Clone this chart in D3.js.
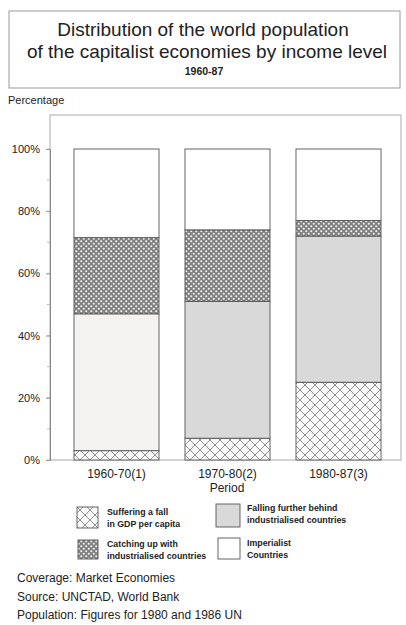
<!DOCTYPE html>
<html><head><meta charset="utf-8">
<script src="https://cdn.jsdelivr.net/npm/d3@7"></script>
<style>body{margin:0;background:#fff}svg{display:block}text{font-family:"Liberation Sans",Arial,sans-serif;fill:#222}</style>
</head><body>
<svg id="c" width="406" height="625"></svg>
<script>
const periods = ["1960-70(1)", "1970-80(2)", "1980-87(3)"];
const seriesNames = ["Suffering a fall in GDP per capita", "Falling further behind industrialised countries", "Catching up with industrialised countries", "Imperialist Countries"];
const suffering = [3, 7, 25];
const fallingBehind = [44, 44, 47];
const catchingUp = [24.5, 23, 5];
const imperialist = [28.5, 26, 23];
const yTicks = [0, 20, 40, 60, 80, 100];

const svg = d3.select("#c");
const defs = svg.append("defs");
// large crosshatch
const p1 = defs.append("pattern").attr("id","bigx").attr("patternUnits","userSpaceOnUse").attr("width",10).attr("height",10);
p1.append("rect").attr("width",10).attr("height",10).attr("fill","#fafafa");
p1.append("path").attr("d","M0,0L10,10M10,0L0,10M-5,5L5,15M5,-5L15,5M5,15L15,5M-5,5L5,-5").attr("stroke","#777").attr("stroke-width",0.8);
// fine dotted checker
const p2 = defs.append("pattern").attr("id","smallx").attr("patternUnits","userSpaceOnUse").attr("width",5).attr("height",5);
p2.append("rect").attr("width",5).attr("height",5).attr("fill","#808080");
p2.append("circle").attr("cx",1.25).attr("cy",1.25).attr("r",1.05).attr("fill","#f4f4f4");
p2.append("circle").attr("cx",3.75).attr("cy",3.75).attr("r",1.05).attr("fill","#f4f4f4");

const fills = ["url(#bigx)", "#d9d9d9", "url(#smallx)", "#ffffff"];
const vals = [suffering, fallingBehind, catchingUp, imperialist];

// title box
svg.append("rect").attr("x",9).attr("y",11).attr("width",391).attr("height",77).attr("fill","none").attr("stroke","#999").attr("stroke-width",1);
svg.append("text").attr("x",203).attr("y",36).attr("text-anchor","middle").attr("font-size",19).text("Distribution of the world population");
svg.append("text").attr("x",207).attr("y",58).attr("text-anchor","middle").attr("font-size",19).text("of the capitalist economies by income level");
svg.append("text").attr("x",204).attr("y",75).attr("text-anchor","middle").attr("font-size",10.5).attr("font-weight","bold").text("1960-87");
svg.append("text").attr("x",8).attr("y",104).attr("font-size",11).text("Percentage");

const y = d3.scaleLinear().domain([0,100]).range([460,149]);
const x = d3.scaleBand().domain(periods).range([55,400]).paddingInner(0.234).paddingOuter(0.171);

// frame
svg.append("rect").attr("x",50).attr("y",115).attr("width",351).attr("height",345).attr("fill","none").attr("stroke","#aaa").attr("stroke-width",1);

// minor ticks
svg.append("g").selectAll("line").data(d3.range(0,101,10)).join("line")
  .attr("x1",47).attr("x2",50).attr("y1",d=>y(d)).attr("y2",d=>y(d)).attr("stroke","#bbb");
const yAxis = d3.axisLeft(y).tickValues(yTicks).tickFormat(d=>d+"%").tickSize(4).tickPadding(6);
const ga = svg.append("g").attr("transform","translate(50,0)").call(yAxis);
ga.select(".domain").attr("stroke","#888");
ga.selectAll(".tick line").attr("stroke","#999");
ga.selectAll("text").attr("font-size",11).attr("fill","#222").attr("font-family","Liberation Sans, Arial, sans-serif");

// stacked bars
const table = periods.map((p,i)=>{const o={period:p}; seriesNames.forEach((s,k)=>o[s]=vals[k][i]); return o;});
const stack = d3.stack().keys(seriesNames)(table);
const g = svg.append("g");
stack.forEach((layer,k)=>{
  g.selectAll(null).data(layer).join("rect")
    .attr("x",d=>x(d.data.period)).attr("width",x.bandwidth())
    .attr("y",d=>y(d[1])).attr("height",d=>y(d[0])-y(d[1]))
    .attr("fill",(d,i)=> (k===1 && i===0) ? "#f5f3f1" : fills[k])
    .attr("stroke","#555").attr("stroke-width",0.9);
});

// x labels
const xAxis = d3.axisBottom(x).tickSize(0).tickPadding(8);
const gx = svg.append("g").attr("transform","translate(0,461)").call(xAxis);
gx.select(".domain").remove();
gx.selectAll("text").attr("font-size",12).attr("fill","#222").attr("font-family","Liberation Sans, Arial, sans-serif");
svg.append("text").attr("x",227).attr("y",492).attr("text-anchor","middle").attr("font-size",12).text("Period");

// legend
const leg = [
  {i:0, sx:77, sy:507, w:21, h:21, tx:107, lines:["Suffering a fall","in GDP per capita"], ty:515},
  {i:1, sx:216, sy:504, w:24, h:23, tx:247, lines:["Falling further behind","industrialised countries"], ty:511},
  {i:2, sx:78, sy:540, w:20, h:19, tx:107, lines:["Catching up with","industrialised countries"], ty:547},
  {i:3, sx:218, sy:538, w:22, h:21, tx:247, lines:["Imperialist","Countries"], ty:546}
];
const lg = svg.append("g");
leg.forEach(l=>{
  lg.append("rect").attr("x",l.sx).attr("y",l.sy).attr("width",l.w).attr("height",l.h)
    .attr("fill",fills[l.i]).attr("stroke","#555").attr("stroke-width",0.9);
  l.lines.forEach((t,j)=>lg.append("text").attr("x",l.tx).attr("y",l.ty+j*12).attr("font-size",8.8).attr("font-weight","bold").attr("fill","#333").text(t));
});

// footer
const foot = ["Coverage: Market Economies","Source: UNCTAD, World Bank","Population: Figures for 1980 and 1986 UN"];
svg.append("g").selectAll("text").data(foot).join("text")
  .attr("x",17).attr("y",(d,i)=>582+i*18.5).attr("font-size",12).text(d=>d);
</script>
</body></html>
